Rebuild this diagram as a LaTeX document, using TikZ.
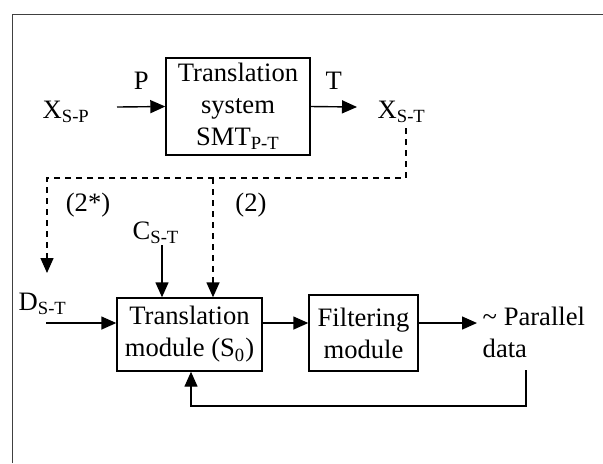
\documentclass[tikz,border=0pt]{standalone}
\usepackage{fontspec}
\setmainfont{Liberation Serif}
\usetikzlibrary{arrows.meta}

\begin{document}
\begin{tikzpicture}[x=0.5pt,y=-0.5pt,>={Triangle[length=7.5pt,width=6.5pt]},
                    line width=0.7pt,font=\fontsize{13.3}{16}\selectfont]
  \tikzstyle{block}=[rectangle,draw=black,fill=white,align=center,inner sep=1pt]
  \tikzstyle{lbl}=[inner sep=0pt]
  \tikzstyle{opt}=[dash pattern=on 3pt off 2.5pt]

  \useasboundingbox (0,0) rectangle (603,463);
  \draw[line width=0.5pt,draw=black!75] (12,463) -- (12,14) -- (603,14);

  % upper row
  \node[lbl,anchor=base west] (xsp) at (42,118) {X\textsubscript{S-P}};
  \node[block,minimum width=72pt,minimum height=48.5pt] (smt) at (238,106.5)
        {Translation\\system\\SMT\textsubscript{P-T}};
  \node[lbl,anchor=base west] (xst) at (377,118) {X\textsubscript{S-T}};
  \coordinate (pin) at (117,107);
  \coordinate (tout) at (357,107);

  \draw[->] (pin) -- node[above=5pt] {P} (smt.west);
  \draw[->] (smt.east) -- node[above=5pt] {T} (tout);

  % lower row
  \node[block,minimum width=72.5pt,minimum height=36.5pt] (tm) at (189.5,334.5)
        {Translation\\module (S\textsubscript{0})};
  \node[block,minimum width=54.5pt,minimum height=38pt] (fm) at (363.5,333)
        {Filtering\\module};
  \node[lbl,align=left,anchor=north west] (par) at (482,306)
        {\textasciitilde{} Parallel\\data};
  \node[lbl,anchor=base west] (dst) at (18,310) {D\textsubscript{S-T}};
  \node[lbl,anchor=base west] (cst) at (132,239) {C\textsubscript{S-T}};
  \node[lbl] (l2s) at (88,205) {(2*)};
  \node[lbl] (l2) at (251,205) {(2)};

  \coordinate (din) at (46,323);
  \coordinate (pout) at (477,323);
  \coordinate (dtip) at (47,273);
  \coordinate (xdown) at (406,128);
  \coordinate (dj) at (406,178);
  \coordinate (fb) at (526,370);

  \draw[->] (din) -- (din -| tm.west);
  \draw[->] (tm.east |- din) -- (fm.west |- din);
  \draw[->] (fm.east |- din) -- (pout);
  \draw[->] (162,245) -- (tm.north -| 162,0);

  % dashed feedback of the translated data
  \draw[opt,->] (xdown) -- (dj) -| (dtip);
  \draw[opt,->] (213,178) -- (tm.north -| 213,0);

  \draw[->] (fb) |- (191,406) -- (tm.south -| 191,0);
\end{tikzpicture}
\end{document}
